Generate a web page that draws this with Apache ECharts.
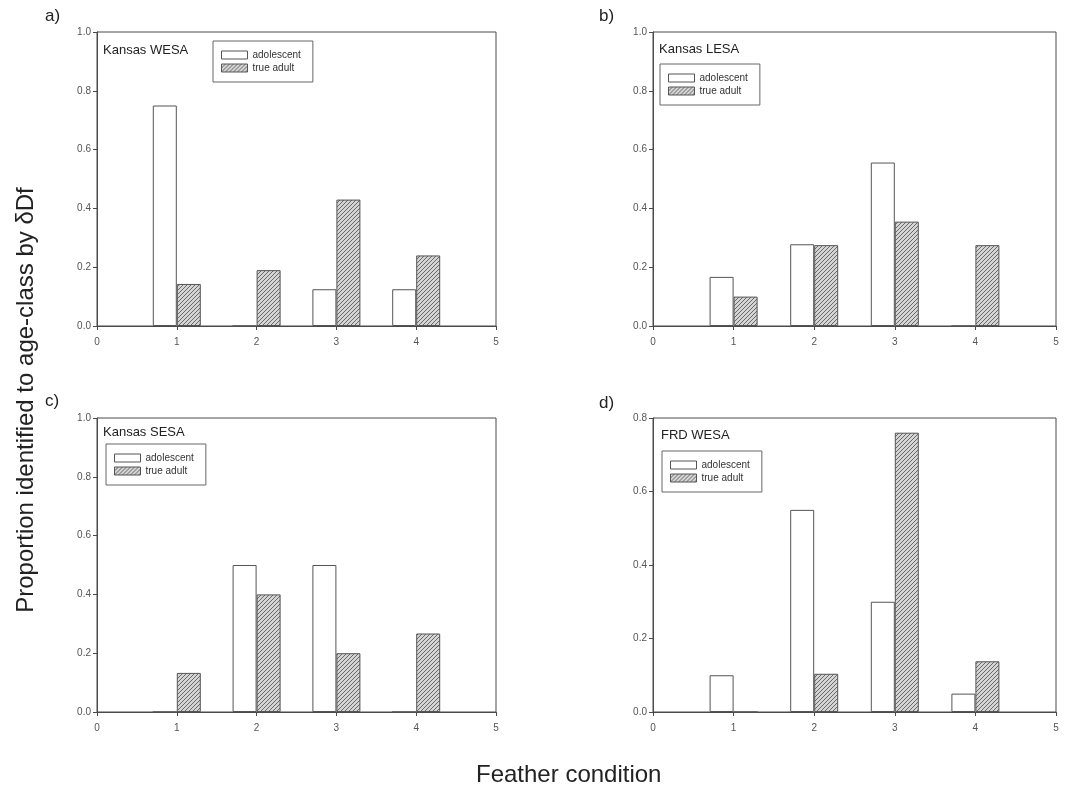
<!DOCTYPE html>
<html>
<head>
<meta charset="utf-8">
<script src="https://cdn.jsdelivr.net/npm/echarts@6/dist/echarts.min.js"></script>
<style>
html,body{margin:0;padding:0;background:#fff;}
#chart{width:1072px;height:790px;}
</style>
</head>
<body>
<div id="chart"></div>
<script>
// ---- data ----
const featherCondition = [1, 2, 3, 4];
const panelLetters = ['a)', 'b)', 'c)', 'd)'];
const panelNames = ['Kansas WESA', 'Kansas LESA', 'Kansas SESA', 'FRD WESA'];
const seriesNames = ['adolescent', 'true adult'];
const yMaxes = [1.0, 1.0, 1.0, 0.8];
const xTicks = [0, 1, 2, 3, 4, 5];
const kansasWesaAdolescent = [0.75, 0, 0.125, 0.125];
const kansasWesaAdult = [0.143, 0.19, 0.43, 0.24];
const kansasLesaAdolescent = [0.167, 0.278, 0.556, 0];
const kansasLesaAdult = [0.10, 0.275, 0.355, 0.275];
const kansasSesaAdolescent = [0, 0.5, 0.5, 0];
const kansasSesaAdult = [0.133, 0.40, 0.20, 0.267];
const frdWesaAdolescent = [0.10, 0.55, 0.30, 0.05];
const frdWesaAdult = [0, 0.104, 0.76, 0.138];
const xAxisTitle = 'Feather condition';
const yAxisTitle = 'Proportion identified to age-class by δDf';

const adolescentSets = [kansasWesaAdolescent, kansasLesaAdolescent, kansasSesaAdolescent, frdWesaAdolescent];
const adultSets = [kansasWesaAdult, kansasLesaAdult, kansasSesaAdult, frdWesaAdult];

// ---- layout ----
const grids = [
  {left: 97, top: 32, width: 399, height: 294},
  {left: 653, top: 32, width: 403, height: 294},
  {left: 97, top: 418, width: 399, height: 294},
  {left: 653, top: 418, width: 403, height: 294}
];
const letterPos = [[45, 8], [599, 8], [45, 393], [599, 395]];
const namePos = [[103, 44], [659, 43], [103, 426], [661, 429]];
const legendPos = [[213, 41], [660, 64], [106, 444], [662, 451]];

// hatch pattern
function makeHatch() {
  const c = document.createElement('canvas');
  c.width = 4; c.height = 4;
  const ctx = c.getContext('2d');
  ctx.fillStyle = '#d4d4d4';
  ctx.fillRect(0, 0, 4, 4);
  ctx.strokeStyle = '#6a6a6a';
  ctx.lineWidth = 1;
  ctx.beginPath();
  ctx.moveTo(-1, 5); ctx.lineTo(5, -1);
  ctx.moveTo(-3, 3); ctx.lineTo(3, -3);
  ctx.moveTo(1, 7); ctx.lineTo(7, 1);
  ctx.stroke();
  return c;
}
const hatch = {image: makeHatch(), repeat: 'repeat'};

const FONT = '"Liberation Sans", Arial, sans-serif';
const AXIS_COLOR = '#4a4a4a';

const option = {
  backgroundColor: '#fff',
  animation: false,
  textStyle: {fontFamily: FONT},
  grid: grids.map(g => Object.assign({show: true, borderColor: AXIS_COLOR, borderWidth: 1, backgroundColor: 'transparent', containLabel: false}, g)),
  xAxis: grids.map((g, i) => ({
    type: 'value', gridIndex: i, min: xTicks[0], max: xTicks[xTicks.length - 1], interval: 1,
    axisLine: {show: true, lineStyle: {color: AXIS_COLOR, width: 1}},
    axisTick: {show: true, inside: false, length: 4, lineStyle: {color: AXIS_COLOR}},
    axisLabel: {show: true, margin: 11, fontSize: 10, color: '#555', fontFamily: FONT},
    splitLine: {show: false}
  })),
  yAxis: grids.map((g, i) => ({
    type: 'value', gridIndex: i, min: 0, max: yMaxes[i], interval: 0.2,
    axisLine: {show: true, lineStyle: {color: AXIS_COLOR, width: 1}},
    axisTick: {show: true, inside: false, length: 4, lineStyle: {color: AXIS_COLOR}},
    axisLabel: {show: true, margin: 6, fontSize: 10, color: '#555', fontFamily: FONT,
      formatter: v => v.toFixed(1)},
    splitLine: {show: false}
  })),
  title: [
    ...panelLetters.map((t, i) => ({
      text: t, left: letterPos[i][0], top: letterPos[i][1], padding: 0,
      textStyle: {fontSize: 17, fontWeight: 'normal', color: '#222', fontFamily: FONT}
    })),
    ...panelNames.map((t, i) => ({
      text: t, left: namePos[i][0], top: namePos[i][1], padding: 0,
      textStyle: {fontSize: 13, fontWeight: 'normal', color: '#222', fontFamily: FONT}
    }))
  ],
  legend: legendPos.map((p, i) => ({
    data: seriesNames, left: p[0], top: p[1], orient: 'vertical',
    icon: 'rect', itemWidth: 26, itemHeight: 8, itemGap: 3,
    padding: [9, 12, 9, 8], borderColor: '#666', borderWidth: 1,
    itemStyle: {borderWidth: 1, borderColor: '#555'},
    textStyle: {fontSize: 10, color: '#333', fontFamily: FONT},
    selectedMode: false
  })),
  graphic: [
    {type: 'text', left: 586 - 110, top: 763, style: {text: xAxisTitle, font: '24px ' + FONT, fill: '#222'}},
    {type: 'text', x: 14, y: 400, rotation: Math.PI / 2, style: {text: yAxisTitle, font: '24px ' + FONT, fill: '#222', align: 'center', verticalAlign: 'top'}}
  ],
  series: []
};

for (let i = 0; i < 4; i++) {
  option.series.push({
    name: seriesNames[0], type: 'bar', xAxisIndex: i, yAxisIndex: i,
    barWidth: 24, barGap: '0%',
    itemStyle: {color: '#fff', borderColor: '#555', borderWidth: 1},
    data: featherCondition.map((x, k) => [x, adolescentSets[i][k]])
  });
  option.series.push({
    name: seriesNames[1], type: 'bar', xAxisIndex: i, yAxisIndex: i,
    barWidth: 24, barGap: '0%',
    itemStyle: {color: hatch, borderColor: '#555', borderWidth: 1},
    data: featherCondition.map((x, k) => [x, adultSets[i][k]])
  });
}

const chart = echarts.init(document.getElementById('chart'), null, {renderer: 'canvas'});
chart.setOption(option);
</script>
</body>
</html>
